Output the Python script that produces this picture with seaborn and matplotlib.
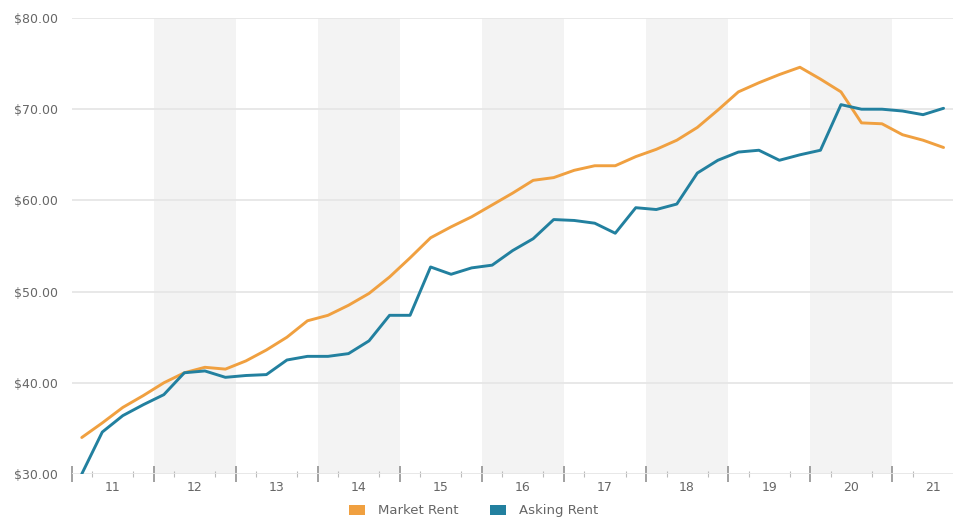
import matplotlib
matplotlib.use("Agg")
import matplotlib.pyplot as plt
import pandas as pd
import seaborn as sns
from matplotlib.patches import Patch
from matplotlib.ticker import FixedLocator, FuncFormatter, NullFormatter

# Quarterly periods, 2011 Q1 through 2021 Q3
periods = [f"{y}Q{q}" for y in range(2011, 2022) for q in range(1, 5)][:43]

market_rent = [
    34.0, 35.6, 37.3, 38.6,
    40.0, 41.1, 41.7, 41.5,
    42.4, 43.6, 45.0, 46.8,
    47.4, 48.5, 49.8, 51.6,
    53.7, 55.9, 57.1, 58.2,
    59.5, 60.8, 62.2, 62.5,
    63.3, 63.8, 63.8, 64.8,
    65.6, 66.6, 68.0, 69.9,
    71.9, 72.9, 73.8, 74.6,
    73.3, 71.9, 68.5, 68.4,
    67.2, 66.6, 65.8,
]

asking_rent = [
    30.0, 34.6, 36.4, 37.6,
    38.7, 41.1, 41.3, 40.6,
    40.8, 40.9, 42.5, 42.9,
    42.9, 43.2, 44.6, 47.4,
    47.4, 52.7, 51.9, 52.6,
    52.9, 54.5, 55.8, 57.9,
    57.8, 57.5, 56.4, 59.2,
    59.0, 59.6, 63.0, 64.4,
    65.3, 65.5, 64.4, 65.0,
    65.5, 70.5, 70.0, 70.0,
    69.8, 69.4, 70.1,
]

years = list(range(2011, 2022))
year_labels = ["11", "12", "13", "14", "15", "16", "17", "18", "19", "20", "21"]
shaded_years = [2012, 2014, 2016, 2018, 2020]
y_ticks = [30, 40, 50, 60, 70, 80]

series_names = ["Market Rent", "Asking Rent"]
series_colors = ["#F0A040", "#22809F"]

# Place each quarter at its mid-point on a fractional-year axis
t = [int(p[:4]) + (int(p[-1]) - 0.5) / 4 for p in periods]
df = pd.DataFrame({
    "t": t + t,
    "rent": market_rent + asking_rent,
    "series": [series_names[0]] * len(t) + [series_names[1]] * len(t),
})

sns.set_theme(style="white")
plt.rcParams["font.family"] = ["DejaVu Sans"]

fig = plt.figure(figsize=(9.61, 5.25), dpi=100)
ax = fig.add_axes([71.5 / 961, 51 / 525, (953 - 71.5) / 961, 456 / 525])

# alternating year bands
for yr in shaded_years:
    ax.axvspan(yr, yr + 1, color="#F3F3F3", lw=0, zorder=0)

# horizontal grid lines
for v in y_ticks:
    ax.axhline(v, color="#E6E6E6", lw=1.3, zorder=1)

sns.lineplot(
    data=df, x="t", y="rent", hue="series", hue_order=series_names,
    palette=series_colors, linewidth=2.1, legend=False, ax=ax, zorder=3,
)

ax.set_xlim(2011, 2021.74)
ax.set_ylim(30, 80)
for s in ax.spines.values():
    s.set_visible(False)
ax.set_xlabel("")
ax.set_ylabel("")

text_color = "#666666"

# y axis: dollar labels, no tick marks
ax.set_yticks(y_ticks)
ax.yaxis.set_major_formatter(FuncFormatter(lambda v, _: f"${v:.2f}"))
ax.tick_params(axis="y", length=0, pad=10, labelsize=9, labelcolor=text_color)

# x axis: year labels centred in each year, quarter ticks as minor ticks
ax.set_xticks([y + 0.5 for y in years])
ax.set_xticklabels(year_labels)
ax.tick_params(axis="x", which="major", length=0, pad=5, labelsize=9,
               labelcolor=text_color)
quarter_bounds = [y + q / 4 for y in years for q in range(1, 4)]
ax.xaxis.set_minor_locator(FixedLocator(quarter_bounds))
ax.tick_params(axis="x", which="minor", direction="inout", length=5,
               width=0.8, color="#BBBBBB", bottom=True)

# taller ticks at the year boundaries
sec = ax.secondary_xaxis("bottom")
sec.set_xticks(years)
sec.xaxis.set_major_formatter(NullFormatter())
sec.tick_params(axis="x", direction="inout", length=11, width=1.3,
                color="#9A9A9A")
for s in sec.spines.values():
    s.set_visible(False)

handles = [Patch(facecolor=c, edgecolor="none", label=n)
           for n, c in zip(series_names, series_colors)]
leg = fig.legend(
    handles=handles, loc="lower center", bbox_to_anchor=(0.493, -0.008),
    ncol=2, frameon=False, fontsize=9.5, handlelength=1.2, handleheight=0.8,
    handletextpad=1.0, columnspacing=2.4,
)
for txt in leg.get_texts():
    txt.set_color(text_color)

fig.savefig("out.png", dpi=100)
